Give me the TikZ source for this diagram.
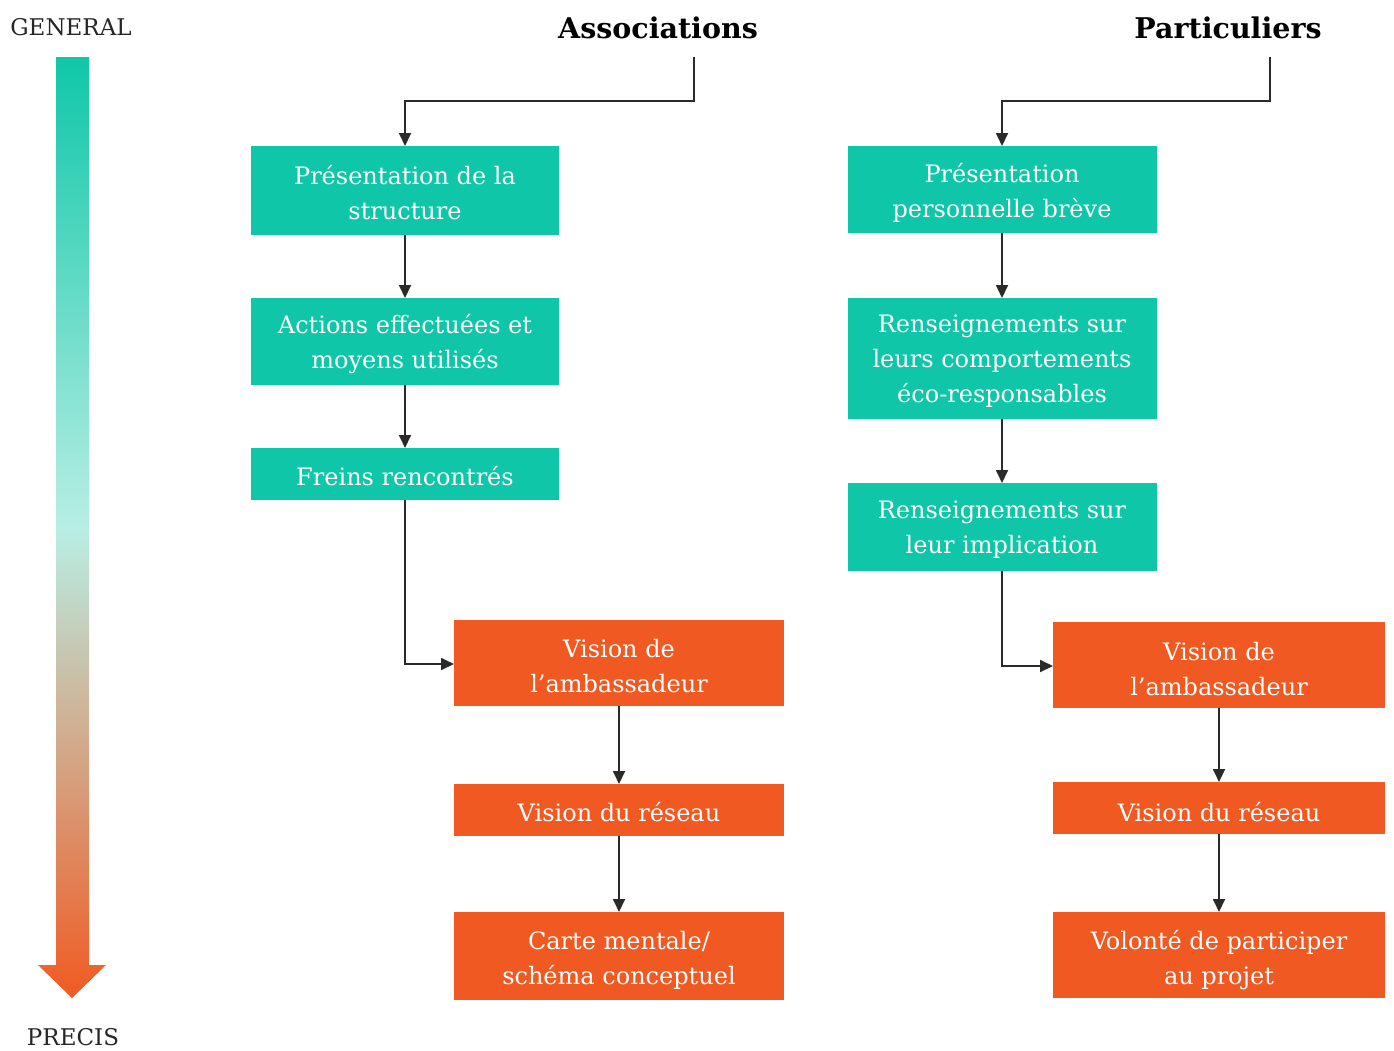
\documentclass[tikz,border=0pt]{standalone}
\usepackage{fontspec}
\setmainfont{DejaVu Serif}
\usetikzlibrary{arrows.meta}
\definecolor{teal1}{HTML}{0FC7A8}
\definecolor{orange1}{HTML}{F05A22}
\definecolor{palemint}{HTML}{B8EEE4}
\definecolor{linegray}{HTML}{2A2A2A}
\tikzset{
  x=1pt, y=-1pt,
  boxtext/.style={text=white, font=\fontsize{24}{35}\selectfont, align=center, inner sep=0pt},
  greenbox/.style={fill=teal1},
  orangebox/.style={fill=orange1},
  link/.style={draw=linegray, line width=1.8pt, -{Triangle[length=13pt,width=12pt]}},
  sidelabel/.style={font=\fontsize{23}{28}\selectfont, text=black!85},
  header/.style={font=\bfseries\fontsize{28.5}{34}\selectfont, text=black}
}
\begin{document}
\begin{tikzpicture}
\useasboundingbox (0,0) rectangle (1394,1050);

% scale arrow from general to precise
\shade[top color=teal1, bottom color=orange1, middle color=palemint]
  (56,57) -- (89,57) -- (89,965) -- (106,965) -- (72,998) -- (38,965) -- (56,965) -- cycle;
\node[sidelabel] (gen) at (71,27) {GENERAL};
\node[sidelabel] (pre) at (73,1037) {PRECIS};

% column headers
\node[header] (hA) at (658,28) {Associations};
\node[header] (hP) at (1228,28) {Particuliers};
\coordinate (hAs) at (694,57);
\coordinate (hPs) at (1270,57);

% Associations: boxes
\path[greenbox] (251,146) rectangle (559,235);
\node[boxtext] (a1) at (405,193) {Présentation de la\\structure};
\path[greenbox] (251,298) rectangle (559,385);
\node[boxtext] (a2) at (405,344) {Actions effectuées et\\moyens utilisés};
\path[greenbox] (251,448) rectangle (559,500);
\node[boxtext] (a3) at (405,476) {Freins rencontrés};
\path[orangebox] (454,620) rectangle (784,706);
\node[boxtext] (a4) at (619,666) {Vision de\\l’ambassadeur};
\path[orangebox] (454,784) rectangle (784,836);
\node[boxtext] (a5) at (619,812) {Vision du réseau};
\path[orangebox] (454,912) rectangle (784,1000);
\node[boxtext] (a6) at (619,960) {Carte mentale/\\schéma conceptuel};

% Particuliers: boxes
\path[greenbox] (848,146) rectangle (1157,233);
\node[boxtext] (p1) at (1002,193) {Présentation\\personnelle brève};
\path[greenbox] (848,298) rectangle (1157,419);
\node[boxtext] (p2) at (1002,361) {Renseignements sur\\leurs comportements\\éco-responsables};
\path[greenbox] (848,483) rectangle (1157,571);
\node[boxtext] (p3) at (1002,530) {Renseignements sur\\leur implication};
\path[orangebox] (1053,622) rectangle (1385,708);
\node[boxtext] (p4) at (1219,669) {Vision de\\l’ambassadeur};
\path[orangebox] (1053,782) rectangle (1385,834);
\node[boxtext] (p5) at (1219,812) {Vision du réseau};
\path[orangebox] (1053,912) rectangle (1385,998);
\node[boxtext] (p6) at (1219,960) {Volonté de participer\\au projet};

% box borders as coordinates for connectors
\coordinate (a1t) at (405,146); \coordinate (a1b) at (405,235);
\coordinate (a2t) at (405,298); \coordinate (a2b) at (405,385);
\coordinate (a3t) at (405,448); \coordinate (a3b) at (405,500);
\coordinate (a4l) at (454,664); \coordinate (a4b) at (619,706);
\coordinate (a5t) at (619,784); \coordinate (a5b) at (619,836);
\coordinate (a6t) at (619,912);
\coordinate (p1t) at (1002,146); \coordinate (p1b) at (1002,233);
\coordinate (p2t) at (1002,298); \coordinate (p2b) at (1002,419);
\coordinate (p3t) at (1002,483); \coordinate (p3b) at (1002,571);
\coordinate (p4l) at (1053,666); \coordinate (p4b) at (1219,708);
\coordinate (p5t) at (1219,782); \coordinate (p5b) at (1219,834);
\coordinate (p6t) at (1219,912);

% connectors
\draw[link] (hAs) -- (694,101) -| (a1t);
\draw[link] (a1b) -- (a2t);
\draw[link] (a2b) -- (a3t);
\draw[link] (a3b) |- (a4l);
\draw[link] (a4b) -- (a5t);
\draw[link] (a5b) -- (a6t);

\draw[link] (hPs) -- (1270,101) -| (p1t);
\draw[link] (p1b) -- (p2t);
\draw[link] (p2b) -- (p3t);
\draw[link] (p3b) |- (p4l);
\draw[link] (p4b) -- (p5t);
\draw[link] (p5b) -- (p6t);
\end{tikzpicture}
\end{document}
